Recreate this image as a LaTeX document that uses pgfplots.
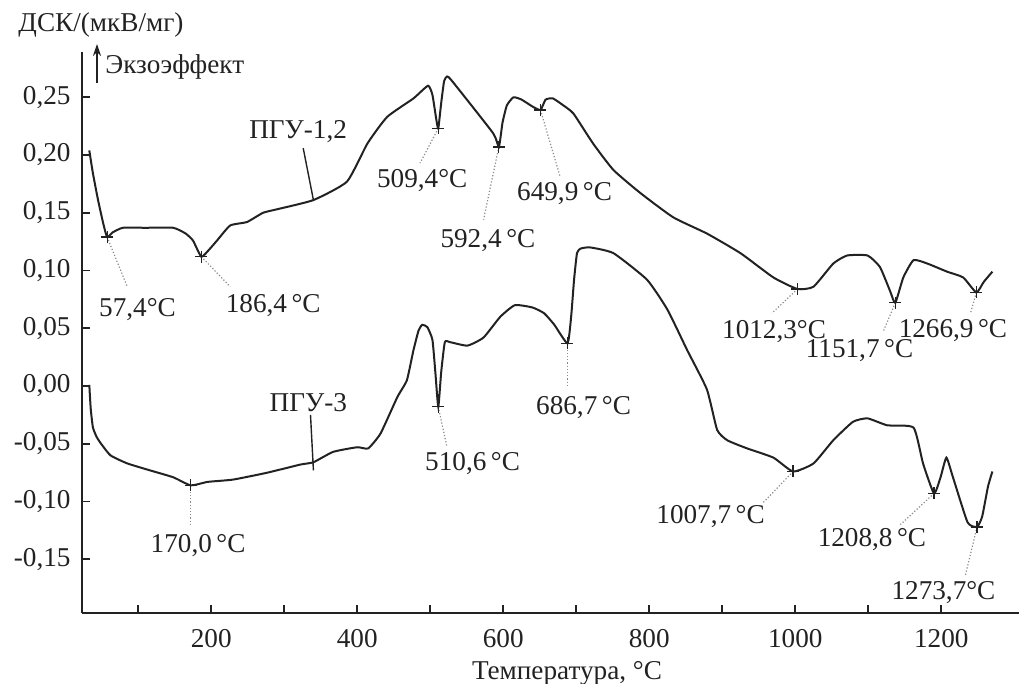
\documentclass[border=0pt]{standalone}
\usepackage{fontspec}
\setmainfont{Liberation Serif}
\usepackage{pgfplots}
\pgfplotsset{compat=1.18}
\usetikzlibrary{arrows.meta}
\definecolor{ink}{HTML}{222222}
\definecolor{lead}{HTML}{8A8A8A}
\begin{document}
\fontsize{13.6}{16}\selectfont
\begin{tikzpicture}[x=1pt,y=1pt]
\path[use as bounding box] (0,0) rectangle (509.5,342);
\begin{axis}[
  at={(41pt,35.5pt)}, anchor=south west,
  scale only axis, width=468.7pt, height=280.5pt,
  xmin=23, xmax=1307, ymin=-0.1965, ymax=0.2892,
  axis x line=bottom, axis y line=left,
  axis line style={-, line width=1.3pt, color=ink},
  tick align=inside, major tick length=4pt,
  tick style={line width=0.8pt, color=ink},
  xtick={100,200,...,1200},
  xticklabels={,200,,400,,600,,800,,1000,,1200},
  ytick={-0.15,-0.1,-0.05,0,0.05,0.1,0.15,0.2,0.25},
  yticklabels={{-0,15},{-0,10},{-0,05},{0,00},{0,05},{0,10},{0,15},{0,20},{0,25}},
  xticklabel style={font=\fontsize{13.6}{16}\selectfont, color=ink, yshift=-3.5pt},
  yticklabel style={font=\fontsize{13.6}{16}\selectfont, color=ink, xshift=-1pt},
  clip=false,
]
% PGU-1,2
\addplot[line width=1pt, color=ink, smooth, tension=0.3] coordinates {
(33,0.204)(38,0.184)(45,0.161)(52,0.141)(57.4,0.129)(65,0.133)(79,0.137)(110,0.137)(148,0.137)(165,0.132)(175,0.126)(186.4,0.112)(197,0.118)(208,0.126)(226,0.139)(249,0.142)(271,0.150)(290,0.153)(340,0.161)(386,0.177)(414,0.210)(441,0.233)(477,0.249)(497,0.260)(503,0.252)(508,0.232)(511,0.223)(515,0.245)(519,0.264)(523,0.268)(530,0.264)(586,0.219)(594,0.207)(599,0.228)(605,0.243)(614,0.250)(625,0.248)(640,0.242)(651,0.239)(658,0.248)(668,0.249)(680,0.244)(696,0.236)(723,0.210)(751,0.187)(788,0.167)(833,0.146)(879,0.132)(925,0.115)(970,0.094)(1003,0.084)(1025,0.086)(1052,0.106)(1071,0.113)(1099,0.113)(1116,0.103)(1130,0.082)(1137,0.072)(1148,0.094)(1162,0.109)(1181,0.106)(1208,0.099)(1230,0.094)(1248,0.081)(1258,0.090)(1270,0.099)
};
% PGU-3
\addplot[line width=1pt, color=ink, smooth, tension=0.3] coordinates {
(33,0.001)(35,-0.02)(38,-0.036)(43,-0.044)(48,-0.049)(62,-0.060)(85,-0.067)(116,-0.073)(148,-0.079)(172,-0.086)(195,-0.083)(230,-0.081)(277,-0.075)(322,-0.068)(340,-0.066)(367,-0.057)(400,-0.053)(415,-0.054)(432,-0.041)(455,-0.0095)(468,0.005)(477,0.031)(484,0.048)(489,0.053)(496,0.051)(503,0.040)(507,0.012)(511,-0.018)(515,0.012)(520,0.038)(527,0.038)(551,0.035)(573,0.042)(596,0.060)(616,0.070)(640,0.068)(656,0.063)(670,0.053)(688,0.037)(693,0.060)(697,0.092)(701,0.115)(706,0.119)(719,0.120)(751,0.115)(797,0.092)(825,0.066)(852,0.031)(879,-0.003)(893,-0.038)(907,-0.047)(934,-0.054)(970,-0.062)(997,-0.074)(1025,-0.067)(1052,-0.047)(1079,-0.031)(1099,-0.028)(1126,-0.034)(1162,-0.036)(1175,-0.067)(1190,-0.093)(1199,-0.079)(1207,-0.062)(1216,-0.079)(1236,-0.118)(1249,-0.122)(1256,-0.113)(1264,-0.087)(1270,-0.074)
};
% extremum marks
\addplot[only marks, mark=+, mark size=3pt, mark options={line width=0.6pt, color=ink}] coordinates {
(57.4,0.129)(186.4,0.112)(511,0.223)(594,0.207)(651,0.239)(1003,0.084)(1137,0.072)(1248,0.081)
(172,-0.086)(511,-0.018)(688,0.037)(997,-0.074)(1190,-0.093)(1249,-0.122)
};
% leader lines
\draw[lead, densely dotted, line width=0.6pt] (axis cs:57.4,0.129) -- (axis cs:85,0.086);
\draw[lead, densely dotted, line width=0.6pt] (axis cs:186.4,0.112) -- (axis cs:226,0.086);
\draw[lead, densely dotted, line width=0.6pt] (axis cs:511,0.223) -- (axis cs:486,0.193);
\draw[lead, densely dotted, line width=0.6pt] (axis cs:594,0.207) -- (axis cs:573,0.144);
\draw[lead, densely dotted, line width=0.6pt] (axis cs:651,0.239) -- (axis cs:678,0.181);
\draw[lead, densely dotted, line width=0.6pt] (axis cs:1003,0.084) -- (axis cs:968,0.063);
\draw[lead, densely dotted, line width=0.6pt] (axis cs:1137,0.072) -- (axis cs:1121,0.048);
\draw[lead, densely dotted, line width=0.6pt] (axis cs:1248,0.081) -- (axis cs:1240,0.063);
\draw[lead, densely dotted, line width=0.6pt] (axis cs:172,-0.086) -- (axis cs:172,-0.122);
\draw[lead, densely dotted, line width=0.6pt] (axis cs:511,-0.018) -- (axis cs:523,-0.053);
\draw[lead, densely dotted, line width=0.6pt] (axis cs:688,0.037) -- (axis cs:688,-0.001);
\draw[lead, densely dotted, line width=0.6pt] (axis cs:997,-0.074) -- (axis cs:956,-0.101);
\draw[lead, densely dotted, line width=0.6pt] (axis cs:1190,-0.093) -- (axis cs:1144,-0.120);
\draw[lead, densely dotted, line width=0.6pt] (axis cs:1249,-0.122) -- (axis cs:1233,-0.164);
% sample pointers
\draw[ink, line width=0.7pt] (axis cs:326,0.206) -- (axis cs:340,0.161);
\draw[ink, line width=0.7pt] (axis cs:336,-0.025) -- (axis cs:340,-0.073);
% labels
\tikzset{lbl/.style={text=ink, inner sep=0pt, font=\fontsize{13.6}{16}\selectfont}}
\node[lbl] at (axis cs:319,0.220) {ПГУ-1,2};
\node[lbl] at (axis cs:333,-0.014) {ПГУ-3};
\node[lbl] at (axis cs:99,0.066) {57,4°C};
\node[lbl] at (axis cs:285,0.070) {186,4\,°C};
\node[lbl] at (axis cs:489,0.178) {509,4°C};
\node[lbl] at (axis cs:579,0.126) {592,4\,°C};
\node[lbl] at (axis cs:684,0.167) {649,9\,°C};
\node[lbl] at (axis cs:971,0.047) {1012,3°C};
\node[lbl] at (axis cs:1088,0.031) {1151,7\,°C};
\node[lbl] at (axis cs:1216,0.048) {1266,9\,°C};
\node[lbl] at (axis cs:182,-0.138) {170,0\,°C};
\node[lbl] at (axis cs:558,-0.067) {510,6\,°C};
\node[lbl] at (axis cs:710,-0.019) {686,7\,°C};
\node[lbl] at (axis cs:884,-0.113) {1007,7\,°C};
\node[lbl] at (axis cs:1105,-0.133) {1208,8\,°C};
\node[lbl] at (axis cs:1203,-0.179) {1273,7°C};
\end{axis}
\node[text=ink, inner sep=0pt] at (50.5,329.5) {ДСК/(мкВ/мг)};
\draw[ink, line width=0.9pt, -{Stealth[length=6pt,width=4pt]}] (48.5,300.5) -- (48.5,320);
\node[text=ink, inner sep=0pt, anchor=west] at (52.5,308.5) {Экзоэффект};
\node[text=ink, inner sep=0pt] at (283.5,5.5) {Температура, °C};
\end{tikzpicture}
\end{document}
